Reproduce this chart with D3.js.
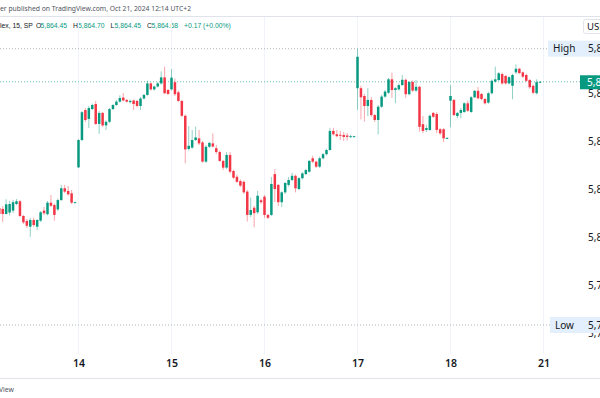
<!DOCTYPE html>
<html>
<head>
<meta charset="utf-8">
<script src="https://cdn.jsdelivr.net/npm/d3@7"></script>
<style>
  body { margin: 0; background: #fff; }
  svg { display: block; font-family: "Noto Sans", sans-serif; }
</style>
</head>
<body>
<svg width="600" height="398"></svg>
<script>
// ---- data: 15 min candles [open, high, low, close], 27 bars a day ----
var oct11 = [
  [5812.1,5813.3,5808.75,5809.6],[5811.7,5812.9,5806.25,5809.6],[5809.6,5815.7,5809.4,5813.6],
  [5810.2,5815.0,5809.0,5813.75],[5811.0,5815.5,5810.0,5814.5],[5813.75,5815.8,5813.3,5814.9],
  [5814.9,5815.4,5808.3,5808.75],[5808.75,5809.2,5805.4,5806.1],[5806.7,5807.5,5803.75,5804.7],
  [5804.3,5807.9,5800.1,5807.1],[5807.1,5808.0,5804.2,5805.0],[5804.3,5807.5,5802.9,5807.1],
  [5806.8,5810.8,5806.3,5810.3],[5811.0,5812.5,5809.2,5809.9],[5809.5,5815.0,5809.0,5814.3],
  [5814.3,5817.5,5812.5,5813.0],[5813.3,5814.0,5806.8,5809.2],[5811.5,5816.0,5810.8,5815.4],
  [5815.4,5821.7,5815.0,5820.3],[5820.3,5821.7,5818.3,5818.9],[5819.2,5821.25,5817.3,5817.8],
  [5818.2,5819.6,5813.75,5814.3],[5814.3,5814.7,5814.1,5814.5]
];
var oct14 = [
  [5829.0,5840.8,5828.75,5840.4],[5840.4,5852.5,5840.0,5852.0],[5852.9,5853.75,5847.9,5848.75],
  [5849.2,5854.6,5845.4,5853.75],[5853.3,5855.6,5852.9,5855.0],[5855.4,5856.7,5846.7,5847.1],
  [5847.1,5852.5,5843.0,5851.7],[5851.7,5852.1,5845.8,5846.5],[5846.5,5848.6,5844.6,5848.0],
  [5848.0,5853.75,5847.5,5853.3],[5853.3,5855.4,5852.9,5855.0],[5855.0,5857.1,5854.6,5856.4],
  [5856.4,5859.0,5856.0,5857.9],[5858.1,5860.0,5856.5,5856.9],[5857.1,5857.5,5856.0,5856.4],
  [5856.2,5857.3,5855.6,5856.7],[5856.9,5857.3,5852.9,5855.4],[5856.7,5857.1,5854.0,5854.6],
  [5854.6,5858.3,5852.9,5857.7],[5857.7,5859.6,5857.3,5859.2],[5859.2,5865.1,5858.8,5864.0],
  [5864.0,5864.4,5861.0,5861.5],[5861.5,5863.1,5861.0,5862.7],[5862.7,5864.6,5862.3,5864.0],
  [5864.0,5869.0,5863.5,5866.5],[5866.5,5871.0,5859.6,5859.9],[5861.25,5861.7,5859.2,5859.6]
];
var oct15 = [
  [5861.5,5870.0,5861.0,5866.4],[5864.5,5866.0,5858.8,5859.5],[5860.3,5861.0,5856.2,5856.7],
  [5856.7,5857.1,5850.0,5850.5],[5850.5,5851.0,5830.7,5836.5],[5836.7,5846.25,5836.0,5838.0],
  [5837.25,5844.6,5836.7,5840.4],[5840.4,5846.0,5840.0,5841.5],[5841.1,5844.6,5838.3,5839.0],
  [5839.4,5840.0,5831.0,5831.4],[5831.4,5838.3,5830.8,5837.6],[5837.6,5839.6,5837.1,5839.2],
  [5839.0,5843.2,5837.3,5837.7],[5837.0,5838.3,5834.6,5835.4],[5835.4,5836.0,5831.3,5831.7],
  [5831.7,5832.1,5827.9,5828.9],[5828.9,5835.4,5828.3,5834.2],[5834.2,5835.4,5826.5,5827.2],
  [5827.5,5828.0,5824.2,5824.7],[5825.1,5826.0,5822.5,5823.0],[5823.3,5824.0,5820.8,5821.4],
  [5823.0,5823.5,5818.0,5818.6],[5818.9,5819.6,5806.4,5809.2],[5809.2,5816.4,5808.3,5811.25],
  [5812.2,5813.0,5804.0,5809.9],[5810.3,5819.2,5809.6,5817.2],[5815.3,5816.0,5813.8,5814.5]
];
var oct16 = [
  [5816.8,5817.5,5808.0,5809.2],[5809.2,5809.6,5807.5,5808.0],[5809.2,5825.0,5808.75,5822.1],
  [5826.2,5828.3,5814.6,5820.0],[5821.7,5822.1,5812.9,5814.5],[5814.5,5819.0,5812.5,5818.6],
  [5818.6,5823.0,5818.0,5822.5],[5821.7,5825.0,5821.0,5823.75],[5823.75,5826.7,5823.3,5825.5],
  [5825.5,5826.0,5818.6,5820.3],[5820.0,5825.0,5819.6,5824.5],[5824.5,5827.0,5824.0,5826.5],
  [5826.2,5828.3,5825.8,5827.9],[5827.2,5832.1,5826.7,5831.7],[5832.8,5833.9,5830.8,5831.4],
  [5831.4,5831.8,5828.8,5829.3],[5829.3,5833.5,5828.8,5832.8],[5832.8,5835.0,5832.4,5834.5],
  [5834.5,5836.7,5834.0,5836.25],[5836.25,5845.5,5836.0,5844.2],[5844.2,5845.5,5842.3,5842.8],
  [5842.8,5844.6,5841.5,5842.0],[5842.6,5844.2,5840.4,5842.2],[5842.5,5843.75,5840.0,5841.7],
  [5842.3,5843.3,5840.2,5841.7],[5841.7,5842.6,5841.3,5842.0],[5841.8,5842.2,5841.7,5842.0]
];
var oct17 = [
  [5862.0,5878.46,5853.0,5875.1],[5862.0,5863.0,5849.0,5858.2],[5858.75,5859.6,5848.1,5854.6],
  [5854.6,5862.0,5850.4,5857.1],[5857.1,5858.3,5850.0,5850.8],[5850.8,5851.25,5847.9,5848.75],
  [5848.75,5855.0,5842.8,5854.3],[5854.3,5859.2,5853.75,5858.5],[5858.5,5861.25,5858.0,5860.6],
  [5860.1,5866.25,5859.6,5865.7],[5865.7,5868.5,5858.0,5861.25],[5861.25,5862.5,5855.7,5862.0],
  [5861.5,5864.0,5861.0,5863.3],[5863.3,5867.5,5863.0,5865.5],[5865.5,5866.0,5858.0,5859.5],
  [5859.5,5865.0,5859.0,5864.6],[5864.6,5865.2,5860.5,5861.0],[5861.0,5865.5,5860.5,5862.6],
  [5862.6,5863.0,5843.9,5845.9],[5847.0,5850.4,5843.3,5844.2],[5844.6,5846.7,5843.75,5845.4],
  [5844.6,5851.0,5844.2,5850.5],[5851.7,5852.1,5849.6,5850.1],[5851.25,5852.0,5843.3,5844.6],
  [5844.9,5845.4,5842.5,5843.2],[5844.9,5845.4,5839.6,5841.1],[5841.1,5841.5,5840.8,5841.3]
];
var oct18 = [
  [5856.8,5863.3,5845.7,5858.75],[5857.1,5857.5,5850.4,5850.8],[5850.4,5852.1,5849.5,5851.7],
  [5851.7,5853.75,5849.5,5852.9],[5852.1,5856.2,5851.7,5855.7],[5855.7,5856.8,5852.1,5852.6],
  [5852.1,5858.75,5851.7,5858.2],[5858.2,5861.25,5857.9,5860.9],[5860.9,5862.5,5857.3,5857.8],
  [5859.6,5860.0,5857.0,5857.5],[5857.5,5858.0,5855.2,5855.7],[5856.0,5860.5,5855.5,5859.9],
  [5859.9,5865.6,5859.4,5865.1],[5864.75,5871.0,5864.3,5865.7],[5865.4,5868.75,5865.0,5868.2],
  [5867.9,5868.5,5863.5,5864.0],[5867.1,5867.5,5863.5,5864.0],[5864.0,5867.0,5863.5,5866.6],
  [5863.0,5868.0,5857.4,5867.5],[5868.6,5871.9,5868.0,5870.1],[5870.1,5870.5,5867.9,5868.3],
  [5868.6,5869.0,5866.3,5866.8],[5867.5,5868.0,5864.6,5865.1],[5865.4,5865.8,5861.7,5862.4],
  [5863.0,5863.5,5859.5,5860.1],[5859.9,5865.7,5859.4,5864.51],[5864.45,5864.70,5864.45,5864.68]
];
var sessions = [oct11, oct14, oct15, oct16, oct17, oct18];
var dayLabels = ['14', '15', '16', '17', '18', '21'];
var priceTicks = [5760, 5780, 5800, 5820, 5840, 5860, 5880];
var highValue = 5878.46, lowValue = 5763.33, lastValue = 5864.68;
var legendParts = [
  { t: 'lex, 15, SP', x: 0, c: '#131722' },
  { t: 'O', x: 36, c: '#131722' }, { t: '5,864.45', x: 40.5, c: '#089981' },
  { t: 'H', x: 73, c: '#131722' }, { t: '5,864.70', x: 78, c: '#089981' },
  { t: 'L', x: 110.5, c: '#131722' }, { t: '5,864.45', x: 114.5, c: '#089981' },
  { t: 'C', x: 147, c: '#131722' }, { t: '5,864.68', x: 151.5, c: '#089981' },
  { t: '+0.17 (+0.00%)', x: 184, c: '#089981' }
];

var BARS = 27, UP = '#089981', DOWN = '#f23645';
var svg = d3.select('svg');

// flatten the sessions into one bar index (day 11 is only partly in view)
var candles = [];
sessions.forEach(function(day, d){
  var start = d * BARS + (d == 0 ? BARS - day.length : 0);
  day.forEach(function(v, i){ candles.push({ i: start + i, o: v[0], h: v[1], l: v[2], c: v[3] }); });
});

var x = d3.scaleLinear().domain([BARS, BARS * 6]).range([78.5, 543.5]);
var y = d3.scaleLinear().domain([5760, 5860]).range([333, 93]);

// header
svg.append('text').attr('x', 0).attr('y', 10.5).style('font-size', '6.8px').style('fill', '#50535e')
  .text('er published on TradingView.com, Oct 21, 2024 12:14 UTC+2');
svg.append('line').attr('x1', 0).attr('x2', 600).attr('y1', 16.5).attr('y2', 16.5).style('stroke', '#e0e3eb');
svg.selectAll('.leg').data(legendParts).enter().append('text')
  .attr('x', function(d){ return d.x; }).attr('y', 27.5)
  .style('font-family', '"Liberation Sans", Arial, sans-serif').style('font-size', '6.8px')
  .style('fill', function(d){ return d.c; }).text(function(d){ return d.t; });

// vertical day grid
var dayIdx = dayLabels.map(function(d, k){ return (k + 1) * BARS; });
svg.selectAll('.grid').data(dayIdx).enter().append('line')
  .attr('x1', function(d){ return x(d); }).attr('x2', function(d){ return x(d); })
  .attr('y1', 17).attr('y2', 354).style('stroke', '#f0f3fa');

// high / low / last price lines
svg.append('line').attr('x1', 0).attr('x2', 548).attr('y1', y(highValue)).attr('y2', y(highValue))
  .style('stroke', '#b2b5be').style('stroke-dasharray', '1,2');
svg.append('line').attr('x1', 0).attr('x2', 550).attr('y1', y(lowValue)).attr('y2', y(lowValue))
  .style('stroke', '#b2b5be').style('stroke-dasharray', '1,2');
svg.append('line').attr('x1', 0).attr('x2', 580).attr('y1', y(lastValue)).attr('y2', y(lastValue))
  .style('stroke', UP).style('stroke-opacity', 0.6).style('stroke-dasharray', '1,2');

// candles
var g = svg.append('g');
g.selectAll('.wick').data(candles).enter().append('line')
  .attr('x1', function(d){ return x(d.i); }).attr('x2', function(d){ return x(d.i); })
  .attr('y1', function(d){ return y(d.h); }).attr('y2', function(d){ return y(d.l); })
  .style('stroke', function(d){ return d.c >= d.o ? UP : DOWN; }).style('stroke-opacity', 0.45);
g.selectAll('.body').data(candles).enter().append('rect')
  .attr('x', function(d){ return x(d.i) - 1.25; }).attr('width', 2.5)
  .attr('y', function(d){ return y(Math.max(d.o, d.c)); })
  .attr('height', function(d){ return Math.max(1, Math.abs(y(d.o) - y(d.c))); })
  .style('fill', function(d){ return d.c >= d.o ? UP : DOWN; });

// price scale
var yAxis = svg.append('g').attr('transform', 'translate(584,0)')
  .call(d3.axisRight(y).tickValues(priceTicks).tickSize(0).tickPadding(4).tickFormat(d3.format(',.2f')));
yAxis.select('.domain').remove();
yAxis.selectAll('text').style('font-size', '10px').style('fill', '#131722').style('font-family', '"Noto Sans", sans-serif');

// time scale
var xAxis = svg.append('g').attr('transform', 'translate(0,354)')
  .call(d3.axisBottom(x).tickValues(dayIdx).tickSize(0).tickPadding(6).tickFormat(function(d, k){ return dayLabels[k]; }));
xAxis.select('.domain').remove();
xAxis.selectAll('text').style('font-size', '10.5px').style('font-weight', 600).style('fill', '#131722').style('font-family', '"Noto Sans", sans-serif');
svg.append('line').attr('x1', 0).attr('x2', 600).attr('y1', 378.5).attr('y2', 378.5).style('stroke', '#e0e3eb');
svg.append('text').attr('x', -1).attr('y', 392).style('font-size', '6.8px').style('fill', '#50535e').text('View');

// labels on the price scale
function priceTag(name, val, x0){
  var yy = y(val);
  svg.append('rect').attr('x', x0).attr('y', yy - 8).attr('width', 600 - x0).attr('height', 16).style('fill', '#e3effd');
  svg.append('text').attr('x', x0 + 5).attr('y', yy + 3.5).style('font-size', '10px').style('fill', '#131722').text(name);
  svg.append('text').attr('x', 588).attr('y', yy + 3.5).style('font-size', '10px').style('fill', '#131722').text(d3.format(',.2f')(val));
}
priceTag('High', highValue, 548);
priceTag('Low', lowValue, 550);
svg.append('rect').attr('x', 580).attr('y', y(lastValue) - 6.5).attr('width', 22).attr('height', 14).style('fill', UP);
svg.append('text').attr('x', 587).attr('y', y(lastValue) + 4).style('font-size', '10px').style('fill', '#fff').text(d3.format(',.2f')(lastValue));
svg.append('rect').attr('x', 583.5).attr('y', 19.5).attr('width', 30).attr('height', 14).attr('rx', 2)
  .style('fill', '#fff').style('stroke', '#e0e3eb');
svg.append('text').attr('x', 587).attr('y', 30).style('font-size', '9.5px').style('fill', '#131722').text('USD');
</script>
</body>
</html>
